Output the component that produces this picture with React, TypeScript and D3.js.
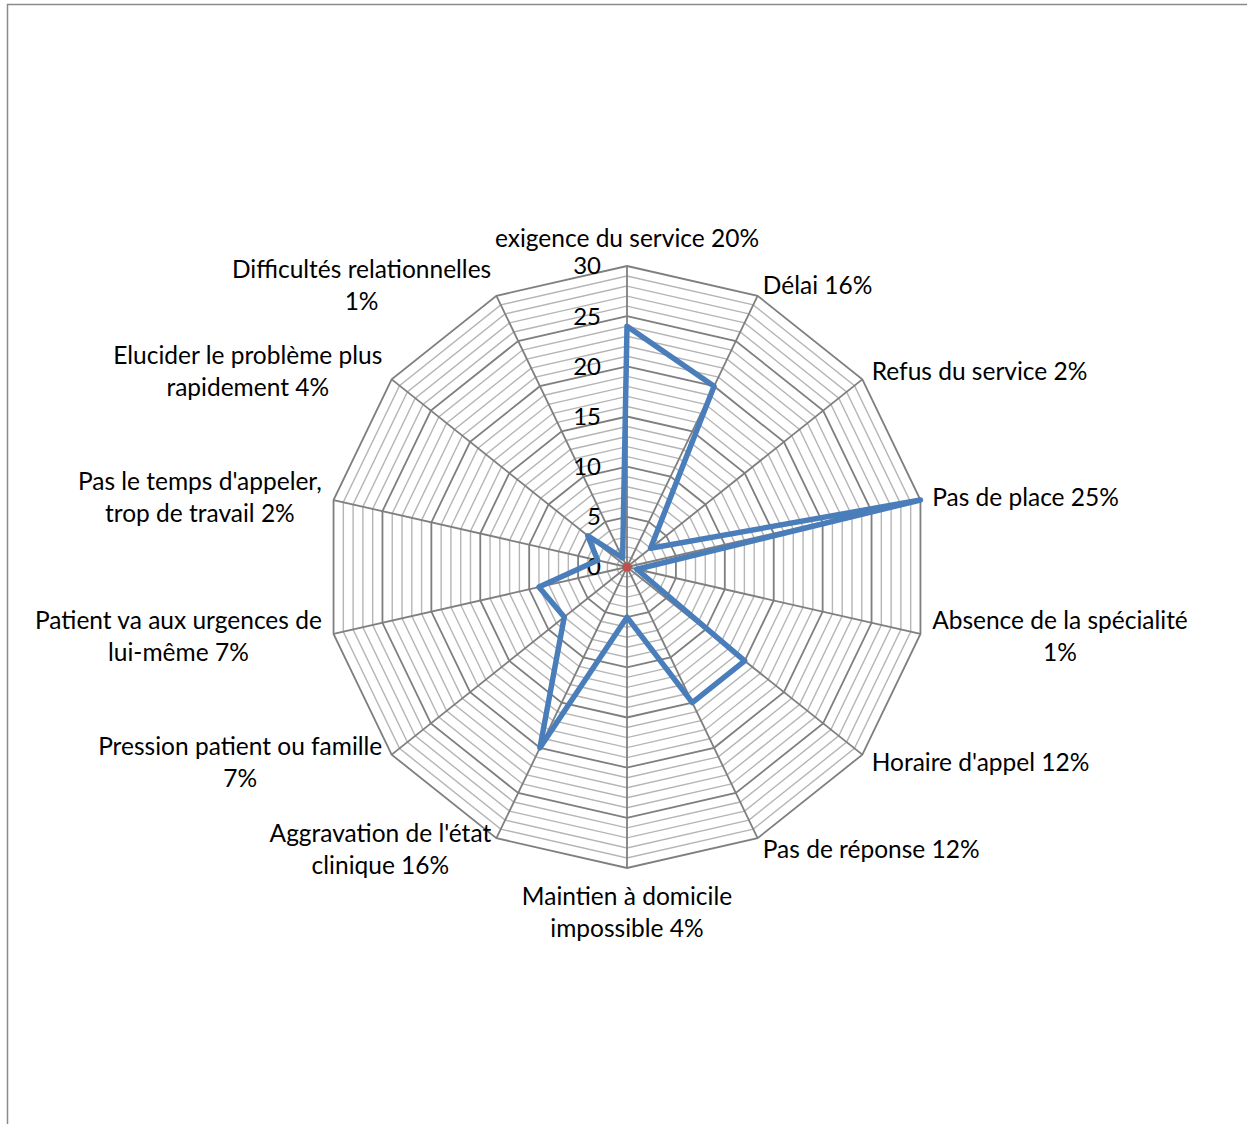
import React, { useEffect, useRef } from "react";
import * as d3 from "d3";

const categories: string[][] = [
  ["exigence du service 20%"],
  ["Délai 16%"],
  ["Refus du service 2%"],
  ["Pas de place 25%"],
  ["Absence de la spécialité", "1%"],
  ["Horaire d'appel 12%"],
  ["Pas de réponse 12%"],
  ["Maintien à domicile", "impossible 4%"],
  ["Aggravation de l'état", "clinique 16%"],
  ["Pression patient ou famille", "7%"],
  ["Patient va aux urgences de", "lui-même 7%"],
  ["Pas le temps d'appeler,", "trop de travail 2%"],
  ["Elucider le problème plus", "rapidement 4%"],
  ["Difficultés relationnelles", "1%"],
];

const seriesValues: number[] = [24, 20, 3, 30, 1, 15, 15, 5, 20, 8, 9, 3, 5, 1];
const baseValues: number[] = categories.map(() => 0);
const tickValues: number[] = [0, 5, 10, 15, 20, 25, 30];

const W = 1247;
const H = 1124;
const CX = 627;
const CY = 567;
const R = 301;
const FONT = "Lato, 'Open Sans', sans-serif";
const FS = 24;
const LABEL_FS = 24.5;
const LINE_H = 32;

export default function App() {
  const ref = useRef<SVGSVGElement | null>(null);

  useEffect(() => {
    const svg = d3.select(ref.current);
    svg.selectAll("*").remove();

    const n = categories.length;
    const r = d3.scaleLinear().domain([0, 30]).range([0, R]);
    const angle = (i: number) => (i * 2 * Math.PI) / n;
    const pt = (i: number, v: number): [number, number] => [
      CX + r(v) * Math.sin(angle(i)),
      CY - r(v) * Math.cos(angle(i)),
    ];

    // frame
    svg
      .append("rect")
      .attr("x", 7.5)
      .attr("y", 4.5)
      .attr("width", W + 20)
      .attr("height", H + 20)
      .attr("fill", "#fff")
      .attr("stroke", "#8a8a8a")
      .attr("stroke-width", 1.5);

    // concentric rings, minor every unit, major every 5
    const grid = svg.append("g");
    d3.range(1, 31).forEach((lv) => {
      const pts = d3.range(n + 1).map((i) => pt(i % n, lv));
      grid
        .append("path")
        .attr("d", d3.line()(pts) + "Z")
        .attr("fill", "none")
        .attr("stroke", lv % 5 === 0 ? "#7f7f7f" : "#b5b5b5")
        .attr("stroke-width", lv % 5 === 0 ? 1.8 : 1.4);
    });

    // spokes
    d3.range(n).forEach((i) => {
      const [x, y] = pt(i, 30);
      grid
        .append("line")
        .attr("x1", CX)
        .attr("y1", CY)
        .attr("x2", x)
        .attr("y2", y)
        .attr("stroke", "#7f7f7f")
        .attr("stroke-width", 1.8);
    });

    // value axis labels
    svg
      .append("g")
      .selectAll("text")
      .data(tickValues)
      .join("text")
      .attr("x", CX - 26)
      .attr("y", (d) => CY - r(d))
      .attr("dy", "0.35em")
      .attr("text-anchor", "end")
      .attr("font-family", FONT)
      .attr("font-size", FS)
      .attr("fill", "#000")
      .text((d) => String(d));

    // series line
    const radial = d3
      .line<number>()
      .x((v, i) => pt(i, v)[0])
      .y((v, i) => pt(i, v)[1]);
    svg
      .append("path")
      .attr("d", radial(seriesValues) + "Z")
      .attr("fill", "none")
      .attr("stroke", "#4a7ebb")
      .attr("stroke-width", 5.5)
      .attr("stroke-linejoin", "round");

    // zero series marker
    const [bx, by] = pt(0, baseValues[0]);
    svg
      .append("circle")
      .attr("cx", bx)
      .attr("cy", by)
      .attr("r", 4.5)
      .attr("fill", "#c0504d");

    // category labels
    const lab = svg.append("g");
    categories.forEach((lines, i) => {
      const a = angle(i);
      const sx = Math.sin(a);
      const cy = -Math.cos(a);
      const px = CX + (R + 12) * sx;
      const py = CY + (R + 12) * cy;
      const g = lab.append("g");
      const texts = lines.map((t) =>
        g
          .append("text")
          .attr("font-family", FONT)
          .attr("font-size", LABEL_FS)
          .attr("fill", "#000")
          .attr("text-anchor", "middle")
          .attr("dy", "0.35em")
          .text(t)
      );
      const widths = texts.map((t) => (t.node() as SVGTextElement).getComputedTextLength());
      const bw = Math.max(...widths);
      const bh = lines.length * LINE_H;
      let centerX: number;
      if (sx > 0.1) centerX = px + bw / 2;
      else if (sx < -0.1) centerX = px - bw / 2;
      else centerX = px;
      let top: number;
      if (Math.abs(sx) <= 0.1) top = cy < 0 ? py - bh : py;
      else top = py - bh / 2;
      texts.forEach((t, k) => {
        t.attr("x", centerX).attr("y", top + LINE_H / 2 + k * LINE_H);
      });
    });
  }, []);

  return (
    <svg
      ref={ref}
      width={W}
      height={H}
      style={{ position: "absolute", left: 0, top: 0, display: "block" }}
    />
  );
}
